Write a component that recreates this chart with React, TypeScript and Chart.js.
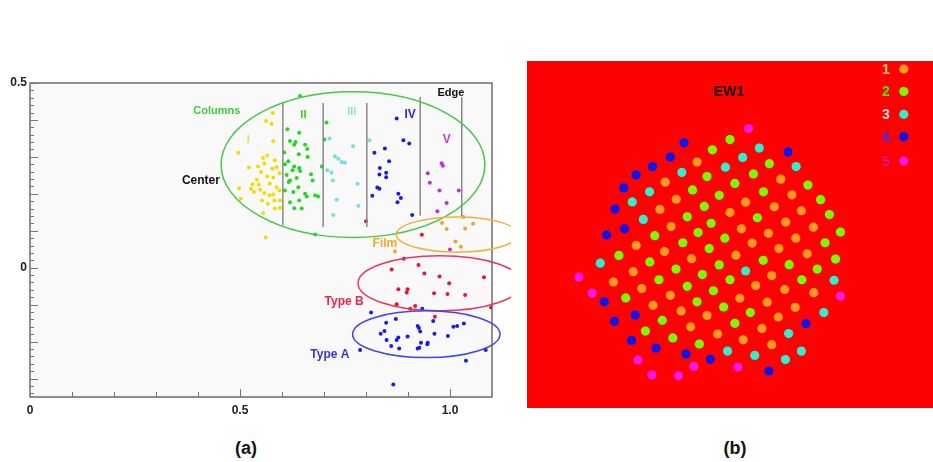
import React, { useEffect, useRef } from "react";
import { Chart, registerables } from "chart.js";
Chart.register(...registerables);

const FONT = '"Liberation Sans", Arial, sans-serif';

// ---------- Panel (a) data ----------
const xTickLabels: Record<string, string> = { "0": "0", "0.5": "0.5", "1": "1.0" };
const yTickLabels: Record<string, string> = { "0": "0", "0.5": "0.5" };

const colI = [
  [0.578, 0.419], [0.562, 0.397], [0.575, 0.39], [0.579, 0.342], [0.496, 0.311], [0.555, 0.297],
  [0.583, 0.291], [0.558, 0.282], [0.521, 0.271], [0.55, 0.259], [0.577, 0.268], [0.565, 0.247],
  [0.579, 0.244], [0.594, 0.256], [0.54, 0.238], [0.498, 0.215], [0.53, 0.226], [0.548, 0.211],
  [0.526, 0.214], [0.558, 0.202], [0.57, 0.196], [0.579, 0.198], [0.587, 0.218], [0.594, 0.209],
  [0.502, 0.187], [0.566, 0.173], [0.582, 0.182], [0.595, 0.182], [0.595, 0.162], [0.555, 0.148],
  [0.583, 0.16], [0.561, 0.082], [0.543, 0.274], [0.571, 0.228], [0.552, 0.182], [0.533, 0.205],
  [0.545, 0.225], [0.565, 0.304], [0.587, 0.272],
];
const colII = [
  [0.643, 0.465], [0.613, 0.375], [0.641, 0.365], [0.619, 0.343], [0.632, 0.34], [0.629, 0.333],
  [0.655, 0.333], [0.66, 0.321], [0.605, 0.312], [0.64, 0.307], [0.661, 0.3], [0.615, 0.288],
  [0.629, 0.274], [0.641, 0.27], [0.643, 0.262], [0.625, 0.264], [0.607, 0.28], [0.611, 0.251],
  [0.635, 0.243], [0.669, 0.253], [0.619, 0.236], [0.616, 0.232], [0.673, 0.236], [0.607, 0.209],
  [0.627, 0.205], [0.639, 0.218], [0.655, 0.2], [0.659, 0.193], [0.679, 0.196], [0.686, 0.193],
  [0.619, 0.177], [0.641, 0.182], [0.629, 0.161], [0.647, 0.16], [0.679, 0.09], [0.706, 0.393],
  [0.701, 0.347], [0.695, 0.274],
];
const colIII = [
  [0.713, 0.35], [0.769, 0.329], [0.726, 0.302], [0.734, 0.295], [0.75, 0.284], [0.742, 0.286],
  [0.708, 0.264], [0.718, 0.258], [0.721, 0.236], [0.78, 0.227], [0.73, 0.184], [0.782, 0.168],
  [0.722, 0.143], [0.808, 0.345],
];
const colIV = [
  [0.873, 0.404], [0.889, 0.345], [0.903, 0.336], [0.845, 0.323], [0.82, 0.311], [0.855, 0.288],
  [0.833, 0.27], [0.848, 0.257], [0.832, 0.252], [0.848, 0.245], [0.827, 0.217], [0.832, 0.214],
  [0.815, 0.195], [0.877, 0.2], [0.883, 0.189], [0.875, 0.177], [0.91, 0.143],
];
const colV = [
  [0.98, 0.283], [0.983, 0.276], [0.947, 0.256], [0.952, 0.23], [0.975, 0.209], [1.021, 0.209],
  [0.992, 0.175], [0.97, 0.153], [1.0, 0.049],
];
const film = [
  [0.981, 0.121], [1.032, 0.137], [1.055, 0.119], [0.992, 0.105], [1.036, 0.106], [1.013, 0.071],
  [1.026, 0.057], [0.869, 0.044],
];
const typeB = [
  [0.8, 0.126], [0.933, 0.089], [0.89, 0.024], [0.925, 0.007], [0.861, -0.005], [0.939, -0.016],
  [0.975, -0.024], [1.081, -0.026], [0.998, -0.042], [0.877, -0.058], [0.899, -0.058], [0.897, -0.067],
  [0.962, -0.069], [0.994, -0.071], [1.036, -0.074], [0.873, -0.099], [0.905, -0.111], [0.917, -0.104],
  [0.964, -0.133], [1.098, -0.108],
];
const typeA = [
  [0.812, -0.121], [0.934, -0.111], [0.871, -0.139], [0.848, -0.149], [0.96, -0.144], [0.923, -0.158],
  [0.926, -0.163], [1.008, -0.16], [1.017, -0.158], [1.033, -0.151], [0.844, -0.171], [0.835, -0.179],
  [0.929, -0.173], [0.963, -0.179], [0.995, -0.185], [0.899, -0.186], [0.877, -0.189], [0.849, -0.196],
  [0.873, -0.196], [0.931, -0.203], [0.947, -0.203], [0.946, -0.207], [0.86, -0.212], [0.879, -0.219],
  [0.927, -0.217], [0.923, -0.219], [0.786, -0.223], [1.085, -0.223], [1.038, -0.252], [0.865, -0.316],
];

// column dividers: [x, yTop, yBottom]
const dividers = [
  [0.602, 0.446, 0.114], [0.698, 0.446, 0.11], [0.802, 0.446, 0.11], [0.929, 0.462, 0.141], [1.028, 0.462, 0.14],
];
// ellipses: [cx, cy, rx, ry]
const ellColumns = [0.769, 0.279, 0.314, 0.197];
const ellFilm = [1.017, 0.0897, 0.145, 0.0476];
const ellTypeB = [0.976, -0.042, 0.195, 0.0747];
const ellTypeA = [0.9436, -0.18, 0.1755, 0.0633];

// annotation labels: [text, x, y]
const labelsA: [string, number, number, string, number][] = [
  ["Columns", 0.445, 0.425, "#3ccc3c", 11],
  ["Center", 0.407, 0.236, "#111111", 12],
  ["I", 0.52, 0.345, "#f2dc40", 11],
  ["II", 0.651, 0.413, "#3acc1a", 11],
  ["III", 0.766, 0.422, "#8adfe0", 11],
  ["IV", 0.905, 0.413, "#2a2ae0", 12],
  ["V", 0.992, 0.347, "#c83ad8", 12],
  ["Edge", 1.002, 0.472, "#111111", 11],
  ["Film", 0.845, 0.064, "#f0a830", 12],
  ["Type B", 0.748, -0.092, "#ee2448", 12],
  ["Type A", 0.714, -0.236, "#3434d8", 12],
];

// ---------- Panel (b) data (EW1 map, x 0..406, y 0..347) ----------
const ew1Orange = [
  [169.3, 248], [136.7, 227.3], [148, 209.7], [131.3, 199.3], [142.7, 181.7], [107, 162.3], [136, 156],
  [255, 230.3], [266.3, 214.3], [219, 206.7], [248.3, 202], [203, 196], [276, 198], [260, 186.3],
  [214.7, 179.3], [288.3, 181], [242.3, 174.7], [270.3, 169.7], [225.7, 164.7], [253, 159], [282, 153.7],
  [163.7, 148.7], [209, 152.3], [104, 135.3], [245.7, 131.3], [83.7, 124.7], [112.7, 118], [229.3, 121],
  [259, 117], [288.7, 113.7], [142, 111], [213, 108], [241, 104], [124.3, 100.7], [153, 95], [269.7, 98.7],
  [179.5, 90.3], [252.5, 88.7], [162.7, 78.7], [235.7, 77], [190.3, 71.3], [216.5, 65.3], [245.7, 60.3],
];
const ew1Green = [
  [185, 260.5], [203, 271], [179.5, 233], [164.7, 219.3], [176.7, 202.3], [159.3, 191.7], [183.7, 185],
  [126, 172.3], [170.3, 175.5], [154.7, 165], [89.3, 152], [181.7, 159], [243.3, 246.3], [227, 235.7],
  [208, 226], [282.7, 224.3], [192, 213.7], [237.3, 217.3], [295.7, 209.3], [231, 190.7], [304.7, 194],
  [316, 176], [197.7, 169.7], [300.3, 165], [121, 145.3], [147.7, 138], [174.7, 132.3], [130.3, 127],
  [159.3, 120.3], [186, 115.7], [96.3, 108.3], [169.3, 104.3], [133.7, 85.3], [116.5, 74.3], [144.5, 67.3],
  [171.7, 61], [311, 148.3], [192, 142.3], [237, 147], [263.5, 142.5], [292.3, 138], [203, 127],
  [276.5, 127], [196.5, 99], [223.8, 93.3], [208, 82.3],
];
const ew1Cyan = [
  [153.7, 237.3], [120.7, 217.3], [103, 207], [114.3, 189], [233, 262.3], [216, 252.7], [270.7, 243.3],
  [198.3, 242.7], [70.3, 144], [219, 136], [309.5, 126.5], [299, 93.3], [263, 71.7], [200.5, 53.8],
  [276, 53.7], [228.3, 49.3], [259.7, 45],
];
const ew1Blue = [
  [156, 267.7], [142, 253], [123.7, 243.3], [107, 234.7], [94.3, 221.3], [85.3, 199.7], [95, 179.3],
  [76.7, 173], [262.3, 258.3], [74.3, 104.3], [106, 90.7], [84.7, 84.3], [102.3, 64.7], [127.3, 56.7],
  [158, 50.7], [183, 45.3], [280.7, 82], [242.7, 33.3],
];
const ew1Magenta = [
  [222, 282.3], [48.3, 129.7], [62, 113.3], [316, 110], [108.7, 44.7], [166, 38], [123, 29.3],
  [150.3, 28.3], [211, 37.3],
];
const ew1LegendLabels = ["1", "2", "3", "4", "5"];
const ew1LegendText = ["#ffcf55", "#48e800", "#cfe2e2", "#3a2cff", "#d0189c"];
const ew1Colors = ["#fb9a1c", "#78fa00", "#30eecc", "#0a16f2", "#ff16ea"];

const pts = (a: number[][]) => a.map(([x, y]) => ({ x, y }));

function PanelA() {
  const ref = useRef<HTMLCanvasElement>(null);
  useEffect(() => {
    const annot = {
      id: "annotA",
      beforeDatasetsDraw(chart: any) {
        const { ctx, chartArea: a } = chart;
        ctx.save();
        ctx.fillStyle = "#f9f9f9";
        ctx.fillRect(a.left, a.top, a.right - a.left, a.bottom - a.top);
        ctx.restore();
      },
      afterDatasetsDraw(chart: any) {
        const { ctx, chartArea: a, scales } = chart;
        const xs = scales.x, ys = scales.y;
        ctx.save();
        // frame
        ctx.strokeStyle = "#4a4a4a";
        ctx.lineWidth = 1.2;
        ctx.strokeRect(a.left, a.top, a.right - a.left, a.bottom - a.top);
        // inward ticks
        ctx.strokeStyle = "#777";
        ctx.lineWidth = 1;
        for (let i = 1; i <= 10; i++) {
          const px = Math.round(xs.getPixelForValue(i / 10)) + 0.5;
          ctx.beginPath();
          ctx.moveTo(px, a.bottom);
          ctx.lineTo(px, a.bottom - (i % 5 === 0 ? 8 : 5));
          ctx.stroke();
        }
        for (let i = -17; i <= 25; i++) {
          const py = Math.round(ys.getPixelForValue(i * 0.02)) + 0.5;
          ctx.beginPath();
          ctx.moveTo(a.left, py);
          ctx.lineTo(a.left + (i % 5 === 0 ? 8 : 4), py);
          ctx.stroke();
        }
        // ellipses
        ctx.beginPath();
        ctx.rect(0, 0, 511, chart.height);
        ctx.clip();
        const ells: [number[], string][] = [
          [ellColumns, "#46c846"],
          [ellFilm, "#f0b03a"],
          [ellTypeB, "#ec3558"],
          [ellTypeA, "#4444ec"],
        ];
        ctx.lineWidth = 1.5;
        for (const [e, c] of ells) {
          const cx = xs.getPixelForValue(e[0]);
          const cy = ys.getPixelForValue(e[1]);
          const rx = xs.getPixelForValue(e[0] + e[2]) - cx;
          const ry = cy - ys.getPixelForValue(e[1] + e[3]);
          ctx.strokeStyle = c;
          ctx.beginPath();
          ctx.ellipse(cx, cy, rx, ry, 0, 0, Math.PI * 2);
          ctx.stroke();
        }
        // labels
        ctx.textAlign = "center";
        ctx.textBaseline = "middle";
        for (const [t, x, y, c, s] of labelsA) {
          ctx.font = `bold ${s}px ${FONT}`;
          ctx.fillStyle = c;
          ctx.fillText(t, xs.getPixelForValue(x), ys.getPixelForValue(y));
        }
        ctx.restore();
      },
    };
    const pointSet = (data: number[][], color: string) => ({
      type: "scatter" as const,
      data: pts(data),
      backgroundColor: color,
      borderColor: color,
      pointRadius: 2,
      borderWidth: 0,
    });
    const chart = new Chart(ref.current!, {
      type: "scatter",
      data: {
        datasets: [
          ...dividers.map((d) => ({
            type: "line" as const,
            data: [{ x: d[0], y: d[1] }, { x: d[0], y: d[2] }],
            borderColor: "#8a8a8a",
            borderWidth: 1.5,
            pointRadius: 0,
            showLine: true,
          })),
          pointSet(colI, "#f2dc00"),
          pointSet(colII, "#1fd81f"),
          pointSet(colIII, "#6ee0e6"),
          pointSet(colIV, "#1c1ce8"),
          pointSet(colV, "#c92ad8"),
          pointSet(film, "#eea42a"),
          pointSet(typeB, "#ec1238"),
          pointSet(typeA, "#1c1ce8"),
        ] as any,
      },
      options: {
        responsive: false,
        animation: false,
        events: [],
        layout: { padding: { top: 83, right: 23, left: 0, bottom: 0 } },
        plugins: { legend: { display: false }, tooltip: { enabled: false } },
        scales: {
          x: {
            type: "linear",
            min: 0,
            max: 1.1,
            afterFit: (s: any) => { s.height = 33; },
            border: { display: false },
            grid: { drawOnChartArea: false, drawTicks: false, display: false },
            ticks: {
              stepSize: 0.1,
              autoSkip: false,
              maxRotation: 0,
              padding: 6,
              color: "#222",
              font: { family: FONT, size: 12, weight: "bold" },
              callback: (v: any) => {
                const k = String(Math.round(Number(v) * 10) / 10);
                return xTickLabels[k] ?? "";
              },
            },
          },
          y: {
            type: "linear",
            min: -0.35,
            max: 0.5,
            afterFit: (s: any) => { s.width = 30; },
            border: { display: false },
            grid: { color: "rgba(0,0,0,0.06)", drawTicks: false, lineWidth: 1 },
            ticks: {
              stepSize: 0.02,
              autoSkip: false,
              padding: 3,
              color: "#222",
              font: { family: FONT, size: 12, weight: "bold" },
              callback: (v: any) => {
                const k = String(Math.round(Number(v) * 100) / 100);
                return yTickLabels[k] ?? "";
              },
            },
          },
        },
      },
      plugins: [annot],
    });
    return () => chart.destroy();
  }, []);
  return <canvas ref={ref} width={515} height={430} style={{ position: "absolute", left: 0, top: 0, width: 515, height: 430 }} />;
}

function PanelB() {
  const ref = useRef<HTMLCanvasElement>(null);
  useEffect(() => {
    const deco = {
      id: "decoB",
      beforeDraw(chart: any) {
        const { ctx } = chart;
        ctx.save();
        ctx.fillStyle = "#fd0202";
        ctx.fillRect(0, 0, chart.width, chart.height);
        ctx.restore();
      },
      afterDraw(chart: any) {
        const { ctx } = chart;
        ctx.save();
        ctx.textAlign = "center";
        ctx.textBaseline = "middle";
        ctx.font = `bold 14px ${FONT}`;
        ctx.fillStyle = "#111";
        ctx.fillText("EW1", 202, 31);
        const rows = [8, 30.5, 53.3, 75.7, 100];
        ctx.font = `bold 14px ${FONT}`;
        ew1LegendLabels.forEach((l, i) => {
          ctx.fillStyle = ew1LegendText[i];
          ctx.fillText(l, 359, rows[i] + 1);
          ctx.fillStyle = ew1Colors[i];
          ctx.beginPath();
          ctx.arc(376.8, rows[i], 4.6, 0, Math.PI * 2);
          ctx.fill();
        });
        ctx.restore();
      },
    };
    const set = (d: number[][], c: string) => ({
      data: pts(d),
      backgroundColor: c,
      borderColor: c,
      borderWidth: 0,
      pointRadius: 4.6,
    });
    const chart = new Chart(ref.current!, {
      type: "scatter",
      data: {
        datasets: [
          set(ew1Orange, ew1Colors[0]),
          set(ew1Green, ew1Colors[1]),
          set(ew1Cyan, ew1Colors[2]),
          set(ew1Blue, ew1Colors[3]),
          set(ew1Magenta, ew1Colors[4]),
        ],
      },
      options: {
        responsive: false,
        animation: false,
        events: [],
        layout: { padding: 0 },
        plugins: { legend: { display: false }, tooltip: { enabled: false } },
        scales: {
          x: { type: "linear", min: 0, max: 406, display: false },
          y: { type: "linear", min: 0, max: 347, display: false },
        },
      },
      plugins: [deco],
    });
    return () => chart.destroy();
  }, []);
  return <canvas ref={ref} width={406} height={347} style={{ position: "absolute", left: 527, top: 61, width: 406, height: 347 }} />;
}

export default function App() {
  const cap: React.CSSProperties = {
    position: "absolute",
    top: 438,
    width: 60,
    textAlign: "center",
    font: `bold 18px ${FONT}`,
    color: "#111",
  };
  return (
    <div style={{ position: "fixed", left: 0, top: 0, width: 933, height: 462, background: "#fff", overflow: "hidden" }}>
      <PanelA />
      <PanelB />
      <div style={{ ...cap, left: 216 }}>(a)</div>
      <div style={{ ...cap, left: 705 }}>(b)</div>
    </div>
  );
}
